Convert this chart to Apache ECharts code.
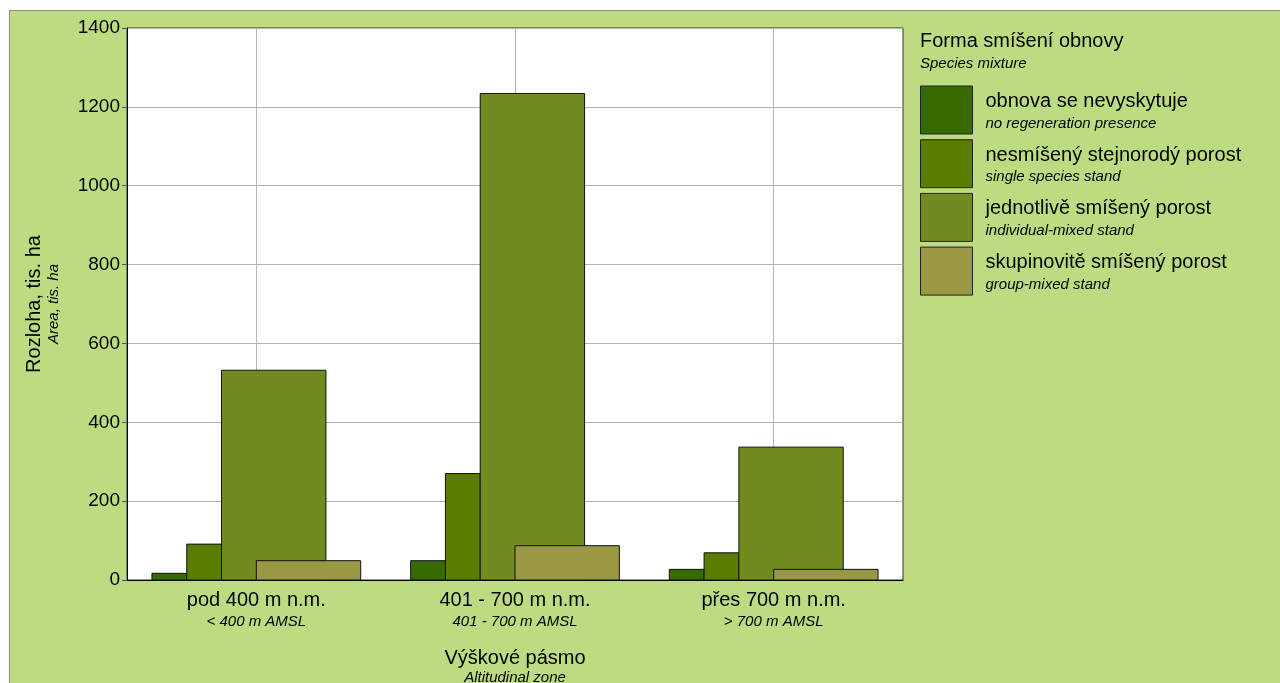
<!DOCTYPE html>
<html>
<head>
<meta charset="utf-8">
<script src="https://cdn.jsdelivr.net/npm/echarts@6/dist/echarts.min.js"></script>
<style>
html,body{margin:0;padding:0;background:#fff;}
#frame{position:absolute;left:9px;top:10px;width:1290px;height:700px;background:#bddc81;border:1px solid #8c8c8c;}
#chart{position:absolute;left:0;top:0;width:1280px;height:683px;}
</style>
</head>
<body>
<div id="frame"></div>
<div id="chart"></div>
<script>
// ---- data ----
const categories = ['pod 400 m n.m.', '401 - 700 m n.m.', 'přes 700 m n.m.'];
const categoriesEn = ['< 400 m AMSL', '401 - 700 m AMSL', '> 700 m AMSL'];
const seriesNames = ['obnova se nevyskytuje', 'nesmíšený stejnorodý porost', 'jednotlivě smíšený porost', 'skupinovitě smíšený porost'];
const seriesNamesEn = ['no regeneration presence', 'single species stand', 'individual-mixed stand', 'group-mixed stand'];
const noRegeneration = [17, 49, 27];
const singleSpecies = [91, 270, 69];
const individualMixed = [532, 1234, 337];
const groupMixed = [49, 87, 27];
const yTicks = [0, 200, 400, 600, 800, 1000, 1200, 1400];

// ---- style ----
const colors = ['#376b00', '#5a7d00', '#728b1f', '#999943'];
// bar placement in units of the band (start offset from category centre, width)
const UNIT = 0.1345;
const layout = [[-3, 1], [-2, 1], [-1, 3], [0, 3]];
const FONT = '"Liberation Sans", Arial, sans-serif';
const MAIN = 20, SUB = 15;

const values = [noRegeneration, singleSpecies, individualMixed, groupMixed];

function makeRender(start, width) {
  return function (params, api) {
    const cat = api.value(0);
    const val = api.value(1);
    const top = api.coord([cat, val]);
    const base = api.coord([cat, 0]);
    const unit = api.size([1, 0])[0] * UNIT;
    return {
      type: 'rect',
      shape: { x: base[0] + start * unit, y: top[1], width: width * unit, height: base[1] - top[1] },
      style: { fill: api.visual('color'), stroke: '#111', lineWidth: 1 }
    };
  };
}

const barSeries = values.map((vals, i) => ({
  name: seriesNames[i],
  type: 'custom',
  z: 3,
  itemStyle: { color: colors[i], borderColor: '#111', borderWidth: 1 },
  encode: { x: 0, y: 1 },
  data: vals.map((v, j) => [j, v]),
  renderItem: makeRender(layout[i][0], layout[i][1])
}));

const gridSeries = {
  type: 'line',
  z: 1,
  data: [],
  silent: true,
  markLine: {
    silent: true,
    z: 1,
    symbol: 'none',
    label: { show: false },
    lineStyle: { color: '#b3b3b3', width: 1, type: 'solid' },
    data: categories.map(c => ({ xAxis: c }))
  }
};

const richText = (aLH, bLH) => ({
  a: { fontSize: MAIN, color: '#000', lineHeight: aLH, fontFamily: FONT },
  b: { fontSize: SUB, fontStyle: 'italic', color: '#000', lineHeight: bLH, fontFamily: FONT }
});

const chart = echarts.init(document.getElementById('chart'), null, { renderer: 'canvas' });
chart.setOption({
  backgroundColor: 'transparent',
  animation: false,
  textStyle: { fontFamily: FONT },
  title: {
    text: 'Forma smíšení obnovy',
    subtext: 'Species mixture',
    left: 920, top: 31, padding: 0, itemGap: 5,
    textStyle: { fontSize: MAIN, fontWeight: 'normal', color: '#000', fontFamily: FONT },
    subtextStyle: { fontSize: SUB, fontStyle: 'italic', color: '#000', fontFamily: FONT }
  },
  legend: {
    data: seriesNames,
    orient: 'vertical',
    left: 920, top: 85.5, padding: 0,
    itemWidth: 52, itemHeight: 48, itemGap: 4.7,
    icon: 'rect',
    selectedMode: false,
    itemStyle: { borderColor: '#222', borderWidth: 1 },
    formatter: name => '{a|' + name + '}\n{b|' + seriesNamesEn[seriesNames.indexOf(name)] + '}',
    textStyle: {
      padding: [4, 0, 0, 8],
      rich: richText(23, 21)
    }
  },
  grid: {
    left: 127, top: 28, width: 776, height: 552,
    outerBoundsMode: 'none',
    containLabel: false,
    show: true, backgroundColor: '#fff', borderColor: '#333', borderWidth: 1
  },
  xAxis: {
    type: 'category',
    data: categories,
    axisLine: { lineStyle: { color: '#000', width: 1 } },
    axisTick: { show: false },
    splitLine: { show: false },
    axisLabel: {
      margin: 8,
      interval: 0,
      formatter: (v, i) => '{a|' + v + '}\n{b|' + categoriesEn[i] + '}',
      rich: richText(24, 20)
    },
    name: '{a|Výškové pásmo}\n{b|Altitudinal zone}',
    nameLocation: 'middle',
    nameGap: 67,
    nameTextStyle: { rich: richText(22, 18) }
  },
  yAxis: {
    type: 'value',
    min: yTicks[0],
    max: yTicks[yTicks.length - 1],
    interval: yTicks[1] - yTicks[0],
    axisLine: { show: true, lineStyle: { color: '#000', width: 1 } },
    axisTick: { show: true, length: 5, lineStyle: { color: '#555' } },
    splitLine: { show: true, lineStyle: { color: '#b3b3b3', width: 1 } },
    axisLabel: { fontSize: 19, color: '#000', margin: 7, fontFamily: FONT, formatter: v => String(v) },
    name: '{a|Rozloha, tis. ha}\n{b|Area, tis. ha}',
    nameLocation: 'middle',
    nameGap: 64,
    nameRotate: 90,
    nameTextStyle: { rich: richText(22, 18) }
  },
  series: [gridSeries].concat(barSeries)
});
</script>
</body>
</html>
